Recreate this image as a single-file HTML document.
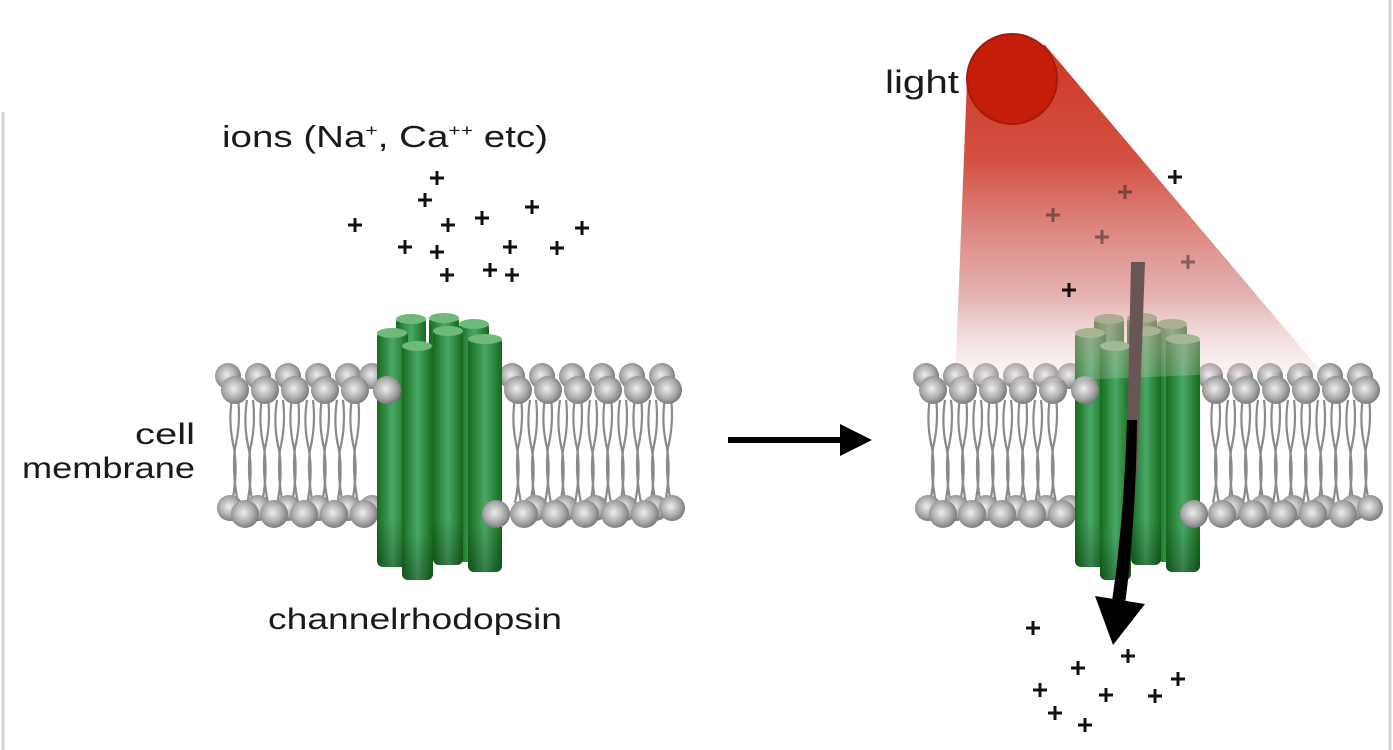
<!DOCTYPE html>
<html><head><meta charset="utf-8"><style>
html,body{margin:0;padding:0;background:#fff;}
svg{display:block;}
text{font-family:"Liberation Sans",sans-serif;fill:#1a1a1a;}
</style></head><body>
<svg width="1393" height="750" viewBox="0 0 1393 750" xmlns="http://www.w3.org/2000/svg">
<defs>
<radialGradient id="head" cx="0.45" cy="0.45" r="0.6">
<stop offset="0" stop-color="#eeeeee"/><stop offset="0.6" stop-color="#aaaaaa"/><stop offset="1" stop-color="#707070"/></radialGradient>
<linearGradient id="cyl" x1="0" x2="1" y1="0" y2="0">
<stop offset="0" stop-color="#156b1e"/><stop offset="0.5" stop-color="#4aa866"/><stop offset="1" stop-color="#146a1c"/></linearGradient>
<linearGradient id="cylv" x1="0" x2="0" y1="0" y2="1">
<stop offset="0" stop-color="#000" stop-opacity="0"/><stop offset="0.8" stop-color="#000" stop-opacity="0"/><stop offset="1" stop-color="#000" stop-opacity="0.25"/></linearGradient>
<linearGradient id="beam" x1="0" x2="0" y1="0" y2="1">
<stop offset="0" stop-color="#c8200c" stop-opacity="1"/><stop offset="0.35" stop-color="#cc3322" stop-opacity="0.95"/><stop offset="0.75" stop-color="#d89090" stop-opacity="0.75"/><stop offset="1" stop-color="#f0e0e0" stop-opacity="0.2"/></linearGradient>
<g id="tails" stroke="#8a8a8a" stroke-width="2.2" fill="none">
<path d="M0,0 q-4,25 2,50 q4,25 -2,55"/><path d="M6,0 q3,25 -3,50 q-3,25 3,55"/>
</g>
<g id="memb">
<g>
<use href="#tails" x="232" y="398"/><use href="#tails" x="262" y="398"/><use href="#tails" x="292" y="398"/><use href="#tails" x="322" y="398"/><use href="#tails" x="352" y="398"/>
<use href="#tails" x="515" y="398"/><use href="#tails" x="545" y="398"/><use href="#tails" x="575" y="398"/><use href="#tails" x="605" y="398"/><use href="#tails" x="635" y="398"/><use href="#tails" x="665" y="398"/>
<use href="#tails" x="247" y="400"/><use href="#tails" x="277" y="400"/><use href="#tails" x="307" y="400"/><use href="#tails" x="337" y="400"/>
<use href="#tails" x="530" y="400"/><use href="#tails" x="560" y="400"/><use href="#tails" x="590" y="400"/><use href="#tails" x="620" y="400"/><use href="#tails" x="650" y="400"/>
</g>
<g fill="url(#head)">
<circle cx="228" cy="376" r="13"/><circle cx="258" cy="376" r="13"/><circle cx="288" cy="376" r="13"/><circle cx="318" cy="376" r="13"/><circle cx="348" cy="376" r="13"/><circle cx="372" cy="376" r="13"/>
<circle cx="512" cy="376" r="13"/><circle cx="542" cy="376" r="13"/><circle cx="572" cy="376" r="13"/><circle cx="602" cy="376" r="13"/><circle cx="632" cy="376" r="13"/><circle cx="662" cy="376" r="13"/>
<circle cx="235" cy="390" r="14"/><circle cx="265" cy="390" r="14"/><circle cx="295" cy="390" r="14"/><circle cx="325" cy="390" r="14"/><circle cx="355" cy="390" r="14"/><circle cx="387" cy="390" r="14"/>
<circle cx="518" cy="390" r="14"/><circle cx="548" cy="390" r="14"/><circle cx="578" cy="390" r="14"/><circle cx="608" cy="390" r="14"/><circle cx="638" cy="390" r="14"/><circle cx="668" cy="390" r="14"/>
<circle cx="230" cy="508" r="13"/><circle cx="258" cy="508" r="13"/><circle cx="288" cy="508" r="13"/><circle cx="318" cy="508" r="13"/><circle cx="348" cy="508" r="13"/><circle cx="372" cy="508" r="13"/>
<circle cx="535" cy="508" r="13"/><circle cx="565" cy="508" r="13"/><circle cx="595" cy="508" r="13"/><circle cx="625" cy="508" r="13"/><circle cx="655" cy="508" r="13"/><circle cx="672" cy="508" r="13"/>
<circle cx="245" cy="514" r="14"/><circle cx="274" cy="514" r="14"/><circle cx="304" cy="514" r="14"/><circle cx="334" cy="514" r="14"/><circle cx="364" cy="514" r="14"/>
<circle cx="496" cy="514" r="14"/><circle cx="524" cy="514" r="14"/><circle cx="555" cy="514" r="14"/><circle cx="585" cy="514" r="14"/><circle cx="615" cy="514" r="14"/><circle cx="645" cy="514" r="14"/>
</g>
<g>
<rect x="396" y="317" width="30" height="240" rx="6" fill="url(#cyl)"/><ellipse cx="411" cy="319" rx="15" ry="5" fill="#6fb97a"/>
<rect x="429" y="316" width="30" height="240" rx="6" fill="url(#cyl)"/><ellipse cx="444" cy="318" rx="15" ry="5" fill="#6fb97a"/>
<rect x="459" y="322" width="30" height="240" rx="6" fill="url(#cyl)"/><ellipse cx="474" cy="324" rx="15" ry="5" fill="#6fb97a"/>
<rect x="377" y="331" width="31" height="236" rx="6" fill="url(#cyl)"/><rect x="377" y="331" width="31" height="236" rx="6" fill="url(#cylv)"/><ellipse cx="392" cy="333" rx="15" ry="5" fill="#6fb97a"/>
<rect x="433" y="329" width="30" height="236" rx="6" fill="url(#cyl)"/><rect x="433" y="329" width="30" height="236" rx="6" fill="url(#cylv)"/><ellipse cx="448" cy="331" rx="15" ry="5" fill="#6fb97a"/>
<rect x="468" y="337" width="34" height="235" rx="6" fill="url(#cyl)"/><rect x="468" y="337" width="34" height="235" rx="6" fill="url(#cylv)"/><ellipse cx="485" cy="339" rx="17" ry="5" fill="#6fb97a"/>
<rect x="402" y="344" width="31" height="236" rx="6" fill="url(#cyl)"/><rect x="402" y="344" width="31" height="236" rx="6" fill="url(#cylv)"/><ellipse cx="417" cy="346" rx="15" ry="5" fill="#6fb97a"/>
</g>
<circle cx="387" cy="390" r="14" fill="url(#head)"/>
<circle cx="496" cy="514" r="14" fill="url(#head)"/>
</g>
<path id="plus" d="M-7,0H7M0,-7V7" stroke="#111" stroke-width="3"/>
</defs>
<line x1="3" y1="112" x2="3" y2="750" stroke="#d0d0d0" stroke-width="3"/>
<line x1="1390" y1="0" x2="1390" y2="750" stroke="#d0d0d0" stroke-width="3"/>

<text x="222" y="147" font-size="31" textLength="326" lengthAdjust="spacingAndGlyphs">ions (Na<tspan font-size="17" dy="-11">+</tspan><tspan dy="11">, Ca</tspan><tspan font-size="17" dy="-11">++</tspan><tspan dy="11"> etc)</tspan></text>
<g>
<use href="#plus" x="437" y="178"/><use href="#plus" x="425" y="200"/><use href="#plus" x="355" y="225"/><use href="#plus" x="448" y="225"/><use href="#plus" x="482" y="218"/><use href="#plus" x="532" y="207"/><use href="#plus" x="582" y="228"/><use href="#plus" x="405" y="247"/><use href="#plus" x="437" y="252"/><use href="#plus" x="510" y="247"/><use href="#plus" x="557" y="248"/><use href="#plus" x="447" y="275"/><use href="#plus" x="490" y="270"/><use href="#plus" x="512" y="275"/>
</g>
<use href="#memb"/>
<text x="195" y="444" font-size="30" text-anchor="end" textLength="60" lengthAdjust="spacingAndGlyphs">cell</text>
<text x="22" y="478" font-size="30" textLength="173" lengthAdjust="spacingAndGlyphs">membrane</text>
<text x="268" y="629" font-size="30" textLength="294" lengthAdjust="spacingAndGlyphs">channelrhodopsin</text>

<line x1="728" y1="440" x2="845" y2="440" stroke="#000" stroke-width="6"/>
<path d="M840,424 L872,440 L840,456 Z" fill="#000"/>

<use href="#memb" x="698"/>
<path d="M967,80 L990,40 L1045,45 L1320,370 L955,385 Z" fill="url(#beam)" opacity="0.9"/>
<circle cx="1012" cy="79" r="45" fill="#c41e0a" stroke="#a81a08" stroke-width="2"/>
<text x="885" y="93" font-size="32" textLength="74" lengthAdjust="spacingAndGlyphs">light</text>
<use href="#plus" x="1175" y="177"/><use href="#plus" x="1069" y="290"/>
<g opacity="0.45"><use href="#plus" x="1125" y="192"/><use href="#plus" x="1053" y="215"/><use href="#plus" x="1102" y="237"/><use href="#plus" x="1188" y="262"/></g>
<path d="M1131,262 L1145,262 L1140,400 Q1136,520 1125,600 L1112,600 Q1124,520 1128,400 Z" fill="#6a5555"/>
<path d="M1137,420 Q1136,520 1125,605 L1112,603 Q1124,520 1127,420 Z" fill="#000"/>
<path d="M1095,596 L1145,604 L1113,645 Z" fill="#000"/>
<g>
<use href="#plus" x="1033" y="628"/><use href="#plus" x="1128" y="656"/><use href="#plus" x="1078" y="668"/><use href="#plus" x="1040" y="690"/><use href="#plus" x="1106" y="695"/><use href="#plus" x="1155" y="696"/><use href="#plus" x="1178" y="679"/><use href="#plus" x="1055" y="713"/><use href="#plus" x="1085" y="725"/>
</g>
</svg>
</body></html>
